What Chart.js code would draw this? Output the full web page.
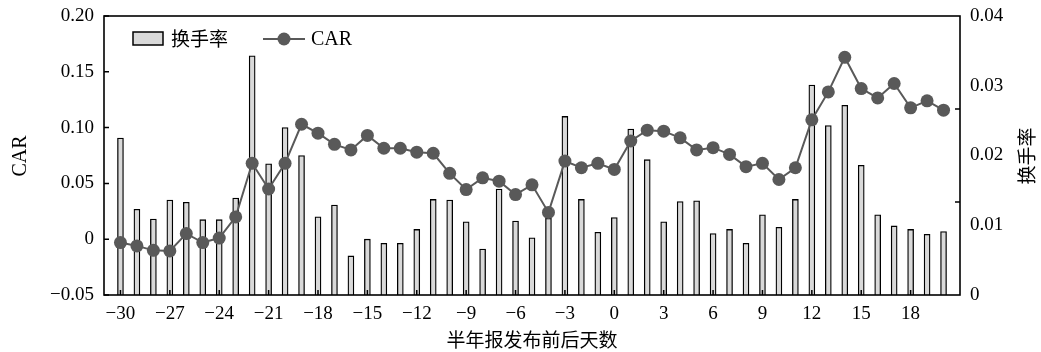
<!DOCTYPE html>
<html>
<head>
<meta charset="utf-8">
<script src="https://cdn.jsdelivr.net/npm/chart.js@4/dist/chart.umd.min.js"></script>
<style>
html,body{margin:0;padding:0;background:#fff;overflow:hidden;}
canvas{display:block;}
</style>
</head>
<body>
<canvas id="c" width="1041" height="352"></canvas>
<script>
// ---- data ----
const days = [-30,-29,-28,-27,-26,-25,-24,-23,-22,-21,-20,-19,-18,-17,-16,-15,-14,-13,-12,-11,-10,-9,-8,-7,-6,-5,-4,-3,-2,-1,0,1,2,3,4,5,6,7,8,9,10,11,12,13,14,15,16,17,18,19,20];
const car = [-0.003,-0.006,-0.010,-0.0105,0.005,-0.003,0.001,0.020,0.068,0.045,0.068,0.103,0.095,0.085,0.080,0.093,0.0815,0.0815,0.078,0.077,0.059,0.0445,0.055,0.052,0.040,0.0487,0.024,0.070,0.064,0.068,0.0625,0.088,0.0977,0.0968,0.0908,0.080,0.082,0.076,0.065,0.068,0.0535,0.064,0.107,0.132,0.163,0.135,0.1266,0.1395,0.1177,0.124,0.1156];
const turnover = [0.0225,0.0123,0.0109,0.0136,0.0133,0.0108,0.0108,0.0139,0.0343,0.0188,0.0240,0.0200,0.0112,0.0129,0.0056,0.0080,0.0074,0.0074,0.0094,0.0137,0.0136,0.0105,0.0066,0.0152,0.0106,0.0082,0.0110,0.0256,0.0137,0.0090,0.0111,0.0238,0.0194,0.0105,0.0134,0.0135,0.0088,0.0094,0.0074,0.0115,0.0097,0.0137,0.0301,0.0243,0.0272,0.0186,0.0115,0.0099,0.0094,0.0087,0.0091];
const xTickValues = [-30,-27,-24,-21,-18,-15,-12,-9,-6,-3,0,3,6,9,12,15,18];
const xTickLabels = ['\u221230','\u221227','\u221224','\u221221','\u221218','\u221215','\u221212','\u22129','\u22126','\u22123','0','3','6','9','12','15','18'];
const leftTickValues = [-0.05,0,0.05,0.10,0.15,0.20];
const leftTickLabels = ['\u22120.05','0','0.05','0.10','0.15','0.20'];
const rightTickValues = [0,0.01,0.02,0.03,0.04];
const rightTickLabels = ['0','0.01','0.02','0.03','0.04'];
const rightMinorTicks = [0.04/3, 0.08/3];
const seriesNames = ['换手率','CAR'];
const xTitle = '半年报发布前后天数';
const leftTitle = 'CAR';
const rightTitle = '换手率';

const SERIF = "'Liberation Serif','Noto Sans CJK SC',serif";
const CJK = "'Noto Sans CJK SC','Liberation Serif',sans-serif";
const tickFont = {family: SERIF, size: 19};
const BAR_FILL = '#d9d9d9';
const LINE_COL = '#595959';

const decor = {
  id: 'decor',
  afterDraw(chart) {
    const ctx = chart.ctx;
    const a = chart.chartArea;
    const sx = chart.scales.x, sy = chart.scales.y, sy2 = chart.scales.y2;
    ctx.save();
    ctx.strokeStyle = '#000';
    ctx.lineWidth = 1.5;
    ctx.beginPath();
    xTickValues.forEach(v => { const px = sx.getPixelForValue(v); ctx.moveTo(px, a.bottom); ctx.lineTo(px, a.bottom - 5); });
    leftTickValues.forEach(v => { const py = sy.getPixelForValue(v); ctx.moveTo(a.left, py); ctx.lineTo(a.left + 5, py); });
    rightMinorTicks.forEach(v => { const py = sy2.getPixelForValue(v); ctx.moveTo(a.right, py); ctx.lineTo(a.right - 5, py); });
    ctx.stroke();
    ctx.lineWidth = 1.6;
    ctx.strokeRect(a.left, a.top, a.right - a.left, a.bottom - a.top);

    // legend
    ctx.fillStyle = BAR_FILL;
    ctx.fillRect(133, 32, 30, 13);
    ctx.lineWidth = 1.5;
    ctx.strokeStyle = '#000';
    ctx.strokeRect(133, 32, 30, 13);
    ctx.fillStyle = '#000';
    ctx.font = '19px ' + CJK;
    ctx.textAlign = 'left';
    ctx.textBaseline = 'middle';
    ctx.fillText(seriesNames[0], 171, 39);
    ctx.strokeStyle = LINE_COL;
    ctx.lineWidth = 2;
    ctx.beginPath(); ctx.moveTo(263, 39); ctx.lineTo(305, 39); ctx.stroke();
    ctx.fillStyle = LINE_COL;
    ctx.beginPath(); ctx.arc(284, 39, 6.5, 0, Math.PI * 2); ctx.fill();
    ctx.fillStyle = '#000';
    ctx.font = '20px ' + SERIF;
    ctx.fillText(seriesNames[1], 311, 40);

    // axis titles
    ctx.textAlign = 'center';
    ctx.font = '20px ' + SERIF;
    ctx.save(); ctx.translate(21, 156); ctx.rotate(-Math.PI / 2); ctx.fillText(leftTitle, 0, 0); ctx.restore();
    ctx.font = '19px ' + CJK;
    ctx.save(); ctx.translate(1027, 156); ctx.rotate(-Math.PI / 2); ctx.fillText(rightTitle, 0, 0); ctx.restore();
    ctx.fillText(xTitle, 532, 340);
    ctx.restore();
  }
};

new Chart(document.getElementById('c'), {
  type: 'bar',
  data: {
    datasets: [
      {
        type: 'line',
        label: seriesNames[1],
        data: days.map((d, i) => ({x: d, y: car[i]})),
        yAxisID: 'y',
        borderColor: LINE_COL,
        borderWidth: 2,
        backgroundColor: LINE_COL,
        pointRadius: 6.5,
        pointBorderWidth: 0,
        pointBackgroundColor: LINE_COL,
        tension: 0,
        order: 0
      },
      {
        type: 'bar',
        label: seriesNames[0],
        data: days.map((d, i) => ({x: d, y: turnover[i]})),
        yAxisID: 'y2',
        backgroundColor: BAR_FILL,
        borderColor: '#000',
        borderWidth: 1.3,
        borderSkipped: 'bottom',
        barThickness: 6,
        order: 1
      }
    ]
  },
  options: {
    responsive: false,
    animation: false,
    layout: {autoPadding: false, padding: {top: 16, left: 0, right: 0, bottom: 0}},
    plugins: {legend: {display: false}, tooltip: {enabled: false}},
    scales: {
      x: {
        type: 'linear', min: -31, max: 21, position: 'bottom', offset: false,
        afterBuildTicks: s => { s.ticks = xTickValues.map(v => ({value: v})); },
        afterFit: s => { s.height = 57; },
        grid: {display: false},
        border: {display: false},
        ticks: {
          autoSkip: false, maxRotation: 0, padding: 0, color: '#000', font: tickFont,
          callback: (v) => { const i = xTickValues.indexOf(v); return i >= 0 ? xTickLabels[i] : ''; }
        }
      },
      y: {
        type: 'linear', position: 'left', min: -0.05, max: 0.2,
        afterBuildTicks: s => { s.ticks = leftTickValues.map(v => ({value: v})); },
        afterFit: s => { s.width = 104; },
        grid: {display: false},
        border: {display: false},
        ticks: {
          padding: 2, color: '#000', font: tickFont,
          callback: (v) => { const i = leftTickValues.findIndex(t => Math.abs(t - v) < 1e-9); return i >= 0 ? leftTickLabels[i] : ''; }
        }
      },
      y2: {
        type: 'linear', position: 'right', min: 0, max: 0.04,
        afterBuildTicks: s => { s.ticks = rightTickValues.map(v => ({value: v})); },
        afterFit: s => { s.width = 81; },
        grid: {display: false},
        border: {display: false},
        ticks: {
          padding: 2, color: '#000', font: tickFont,
          callback: (v) => { const i = rightTickValues.findIndex(t => Math.abs(t - v) < 1e-9); return i >= 0 ? rightTickLabels[i] : ''; }
        }
      }
    }
  },
  plugins: [decor]
});
</script>
</body>
</html>
